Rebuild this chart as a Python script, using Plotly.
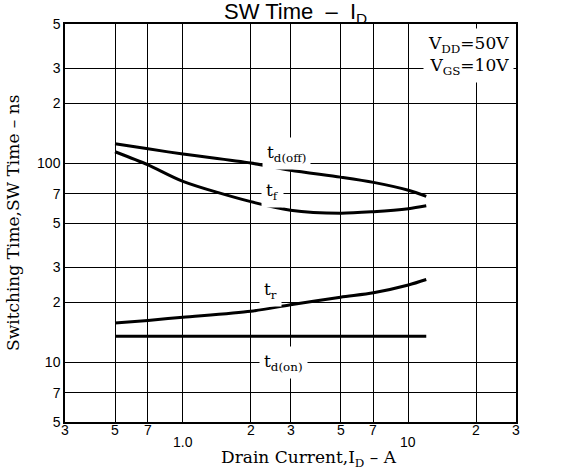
import math
import plotly.graph_objects as go

# Data
drain_current = [0.5, 0.7, 1.0, 2.0, 3.0, 5.0, 7.0, 10.0, 12.0]
td_off = [125, 118, 111, 100, 92, 85, 80, 73, 68]
t_f = [114, 98, 81, 64, 58, 56, 57, 59, 61]
t_r = [15.7, 16.2, 16.8, 18.0, 19.4, 21.2, 22.3, 24.4, 26.0]
td_on = [13.5, 13.5, 13.5, 13.5, 13.5, 13.5, 13.5, 13.5, 13.5]

x_tickvals = [0.3, 0.5, 0.7, 1.0, 2.0, 3.0, 5.0, 7.0, 10.0, 20.0, 30.0]
x_ticktext = ["3", "5", "7", "1.0", "2", "3", "5", "7", "10", "2", "3"]
y_tickvals = [5, 7, 10, 20, 30, 50, 70, 100, 200, 300, 500]
y_ticktext = ["5", "7", "10", "2", "3", "5", "7", "100", "2", "3", "5"]

series_labels = ["t<sub>d(off)</sub>", "t<sub>f</sub>", "t<sub>r</sub>", "t<sub>d(on)</sub>"]
label_x = [2.88, 2.5, 2.45, 2.8]
label_y = [112, 72, 23, 10]

serif = "DejaVu Serif"
sans = "Liberation Sans"

fig = go.Figure()
for ys in [td_off, t_f, t_r, td_on]:
    fig.add_trace(go.Scatter(x=drain_current, y=ys, mode="lines",
                             line=dict(color="black", width=3, shape="spline", smoothing=0.8),
                             showlegend=False, hoverinfo="skip"))

for txt, lx, ly in zip(series_labels, label_x, label_y):
    fig.add_annotation(x=math.log10(lx), y=math.log10(ly), xref="x", yref="y", text=txt,
                       showarrow=False, font=dict(family=serif, size=17, color="black"),
                       bgcolor="white", borderpad=4)

# x tick labels (decade labels sit a little lower, as in the reference)
for v, t in zip(x_tickvals, x_ticktext):
    fig.add_annotation(x=math.log10(v), y=0, xref="x", yref="paper", yanchor="top",
                       yshift=(-10 if t in ("1.0", "10") else 2), text=t, showarrow=False,
                       font=dict(family=sans, size=14, color="black"))

fig.add_annotation(x=0.995, y=0.99, xref="paper", yref="paper", xanchor="right", yanchor="top",
                   text="V<sub>DD</sub>=50V<br>V<sub>GS</sub>=10V", align="right",
                   showarrow=False, font=dict(family=serif, size=17, color="black"),
                   bgcolor="white", borderpad=4)

# chart title (clipped at the top as in the reference)
fig.add_annotation(x=(295 - 65) / 451, y=1.0, xref="paper", yref="paper", yshift=27,
                   text="SW Time  –  I<sub>D</sub>", showarrow=False,
                   font=dict(family=sans, size=22, color="black"))

# axis titles
fig.add_annotation(x=(309 - 65) / 451, y=0, xref="paper", yref="paper", yanchor="top", yshift=-23,
                   text="Drain Current,I<sub>D</sub> – A", showarrow=False,
                   font=dict(family=serif, size=17, color="black"))
fig.add_annotation(x=0, y=0.5, xref="paper", yref="paper", xanchor="center", xshift=-52,
                   text="Switching Time,SW Time – ns", textangle=-90, showarrow=False,
                   font=dict(family=serif, size=17, color="black"))

axis_common = dict(type="log", showgrid=True, gridcolor="black", gridwidth=1.3,
                   showline=True, linecolor="black", linewidth=1.5, mirror=True,
                   ticks="", zeroline=False, automargin=False,
                   tickfont=dict(family=sans, size=14, color="black"))

fig.update_xaxes(range=[math.log10(0.3), math.log10(30)], tickvals=x_tickvals,
                 showticklabels=False, **axis_common)
fig.update_yaxes(range=[math.log10(5), math.log10(500)], tickvals=y_tickvals, ticktext=y_ticktext,
                 **axis_common)

fig.update_layout(width=561, height=472, plot_bgcolor="white", paper_bgcolor="white",
                  margin=dict(l=65, r=45, t=24, b=50, autoexpand=False))

fig.write_html("out.html", config={"displayModeBar": False},
               post_script="document.body.style.margin='0px';")
